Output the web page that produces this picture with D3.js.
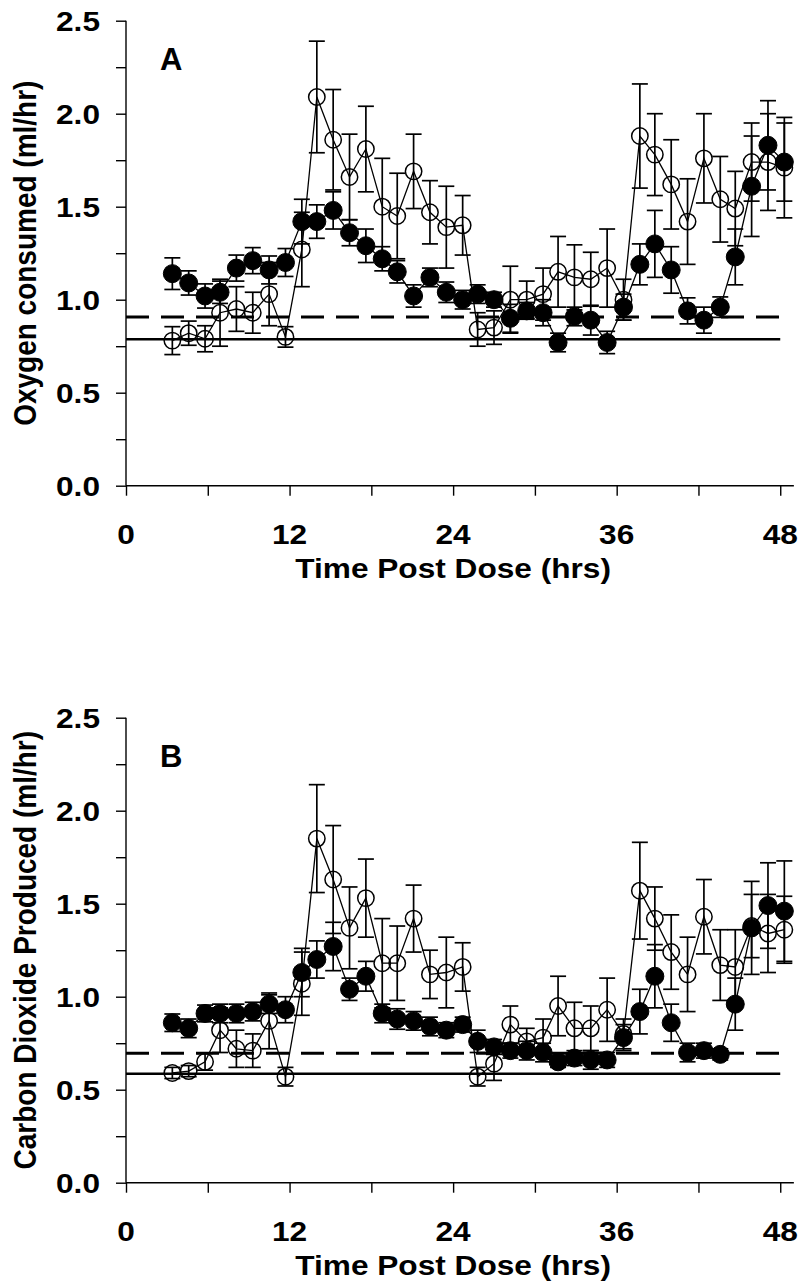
<!DOCTYPE html>
<html>
<head>
<meta charset="utf-8">
<script src="https://cdn.jsdelivr.net/npm/d3@7"></script>
<style>
  body { margin: 0; background: #fff; }
  text { font-family: "Liberation Sans", Arial, sans-serif; font-weight: bold; fill: #000; }
  .axis path, .axis line { stroke: #000; stroke-width: 1.4; }
</style>
</head>
<body>
<svg id="plot"></svg>
<script>
// Sampling times (hrs post dose)
const hours = [3.4, 4.6, 5.8, 6.9, 8.1, 9.3, 10.5, 11.7, 12.9, 14.0, 15.2, 16.4, 17.6,
  18.8, 19.9, 21.1, 22.3, 23.5, 24.7, 25.8, 27.0, 28.2, 29.4, 30.6, 31.7, 32.9, 34.1,
  35.3, 36.5, 37.7, 38.8, 40.0, 41.2, 42.4, 43.6, 44.7, 45.9, 47.1, 48.3];

// Panel A - oxygen consumed (ml/hr)
const o2Filled = [1.14, 1.09, 1.02, 1.04, 1.17, 1.21, 1.16, 1.20, 1.42, 1.42, 1.48, 1.36, 1.29,
  1.22, 1.15, 1.02, 1.12, 1.04, 1.00, 1.03, 1.00, 0.90, 0.94, 0.93, 0.77, 0.91, 0.89,
  0.77, 0.96, 1.19, 1.30, 1.16, 0.94, 0.89, 0.96, 1.23, 1.61, 1.83, 1.74];
const o2FilledErr = [0.085, 0.065, 0.065, 0.06, 0.07, 0.07, 0.075, 0.075, 0.12, 0.09, 0.10, 0.07, 0.09,
  0.065, 0.06, 0.06, 0.05, 0.055, 0.05, 0.05, 0.04, 0.075, 0.045, 0.07, 0.05, 0.05, 0.08,
  0.06, 0.07, 0.11, 0.18, 0.125, 0.07, 0.07, 0.055, 0.15, 0.27, 0.24, 0.21];
const o2Open = [0.78, 0.82, 0.79, 0.93, 0.95, 0.93, 1.03, 0.80, 1.27, 2.09, 1.86, 1.66, 1.81,
  1.50, 1.45, 1.69, 1.47, 1.39, 1.40, 0.84, 0.85, 1.00, 1.00, 1.03, 1.15, 1.12, 1.11,
  1.17, 1.00, 1.88, 1.78, 1.62, 1.42, 1.76, 1.54, 1.49, 1.74, 1.74, 1.71];
const o2OpenErr = [0.075, 0.065, 0.07, 0.18, 0.12, 0.11, 0.17, 0.055, 0.2, 0.3, 0.27, 0.23, 0.23,
  0.26, 0.23, 0.2, 0.17, 0.22, 0.16, 0.09, 0.09, 0.18, 0.1, 0.14, 0.19, 0.175, 0.145,
  0.21, 0.11, 0.28, 0.22, 0.24, 0.23, 0.24, 0.23, 0.2, 0.21, 0.26, 0.27];
const o2Dashed = 0.907;
const o2Solid = 0.787;

// Panel B - carbon dioxide produced (ml/hr)
const co2Filled = [0.86, 0.83, 0.91, 0.91, 0.91, 0.92, 0.96, 0.93, 1.13, 1.20, 1.27, 1.04, 1.11,
  0.91, 0.88, 0.87, 0.84, 0.82, 0.85, 0.76, 0.73, 0.71, 0.71, 0.70, 0.65, 0.67, 0.66,
  0.66, 0.78, 0.92, 1.11, 0.86, 0.70, 0.71, 0.69, 0.96, 1.37, 1.49, 1.46];
const co2FilledErr = [0.047, 0.05, 0.045, 0.05, 0.05, 0.05, 0.05, 0.07, 0.13, 0.1, 0.13, 0.06, 0.08,
  0.05, 0.055, 0.05, 0.05, 0.04, 0.04, 0.06, 0.04, 0.04, 0.05, 0.05, 0.03, 0.04, 0.05,
  0.04, 0.07, 0.12, 0.17, 0.1, 0.05, 0.04, 0.03, 0.14, 0.25, 0.23, 0.27];
const co2Open = [0.59, 0.60, 0.65, 0.82, 0.72, 0.71, 0.87, 0.57, 1.07, 1.85, 1.63, 1.37, 1.53,
  1.18, 1.18, 1.42, 1.12, 1.13, 1.16, 0.57, 0.64, 0.85, 0.76, 0.78, 0.95, 0.83, 0.83,
  0.93, 0.80, 1.57, 1.42, 1.24, 1.12, 1.43, 1.17, 1.16, 1.38, 1.34, 1.36];
const co2OpenErr = [0.03, 0.03, 0.045, 0.12, 0.1, 0.09, 0.15, 0.05, 0.17, 0.29, 0.29, 0.22, 0.21,
  0.24, 0.2, 0.18, 0.13, 0.19, 0.13, 0.05, 0.09, 0.1, 0.07, 0.1, 0.16, 0.14, 0.12,
  0.17, 0.08, 0.26, 0.17, 0.2, 0.2, 0.2, 0.19, 0.2, 0.17, 0.21, 0.18];
const co2Dashed = 0.696;
const co2Solid = 0.586;

const xTicks = [0, 6, 12, 18, 24, 30, 36, 42, 48];
const xLabels = [0, 12, 24, 36, 48];
const yTicks = [0, 0.25, 0.5, 0.75, 1, 1.25, 1.5, 1.75, 2, 2.25, 2.5];
const yLabels = [0, 0.5, 1, 1.5, 2, 2.5];

const totalW = 800;
const totalH = 1286;
const left = 126;
const plotH = 465;
const stretch = 1.13; // text in the original is a bit wide

const svg = d3.select("#plot").attr("width", totalW).attr("height", totalH);

const xScale = d3.scaleLinear().domain([0, 49]).range([0, 49 * 13.63]);
const yScale = d3.scaleLinear().domain([0, 2.5]).range([plotH, 0]);

function drawPanel(top, letter, yTitle, filled, filledErr, open, openErr, dashed, solid) {
  const g = svg.append("g").attr("transform", `translate(${left},${top})`);

  // axes
  g.append("g")
    .attr("class", "axis")
    .attr("transform", `translate(0,${plotH})`)
    .call(d3.axisBottom(xScale).tickValues(xTicks).tickSize(10).tickFormat(""))
    .call((a) => a.select(".domain").attr("d", `M0,0H${xScale(49)}`));

  g.append("g")
    .attr("class", "axis")
    .call(d3.axisLeft(yScale).tickValues(yTicks).tickSize(10).tickFormat(""))
    .call((a) => a.select(".domain").attr("d", `M0,${yScale(2.5)}V${yScale(0)}`));

  g.selectAll(".xlab")
    .data(xLabels)
    .enter()
    .append("text")
    .attr("transform", (d) => `translate(${xScale(d)},${plotH + 58}) scale(${stretch},1)`)
    .attr("text-anchor", "middle")
    .style("font-size", "28px")
    .text((d) => d);

  g.selectAll(".ylab")
    .data(yLabels)
    .enter()
    .append("text")
    .attr("transform", (d) => `translate(-26,${yScale(d) + 10}) scale(${stretch},1)`)
    .attr("text-anchor", "end")
    .style("font-size", "28px")
    .text((d) => d.toFixed(1));

  g.append("text")
    .attr("transform", `translate(${xScale(24)},${plotH + 92}) scale(${stretch},1)`)
    .attr("text-anchor", "middle")
    .style("font-size", "28px")
    .text("Time Post Dose (hrs)");

  g.append("text")
    .attr("transform", `translate(-90,${plotH / 2}) scale(${stretch},1) rotate(-90)`)
    .attr("text-anchor", "middle")
    .style("font-size", "28px")
    .text(yTitle);

  g.append("text")
    .attr("x", 34)
    .attr("y", 49)
    .style("font-size", "31px")
    .text(letter);

  // reference lines
  g.append("line")
    .attr("x1", 0).attr("x2", xScale(48))
    .attr("y1", yScale(dashed)).attr("y2", yScale(dashed))
    .attr("stroke", "#000").attr("stroke-width", 3.2)
    .attr("stroke-dasharray", "23,12");
  g.append("line")
    .attr("x1", 0).attr("x2", xScale(48))
    .attr("y1", yScale(solid)).attr("y2", yScale(solid))
    .attr("stroke", "#000").attr("stroke-width", 2.6);

  const line = d3.line().x((d) => xScale(d.t)).y((d) => yScale(d.v));

  const series = [
    { vals: open, errs: openErr, hollow: true },
    { vals: filled, errs: filledErr, hollow: false },
  ];

  series.forEach((s) => {
    const pts = hours.map((t, i) => ({ t: t, v: s.vals[i], e: s.errs[i] }));

    g.append("path")
      .datum(pts)
      .attr("d", line)
      .attr("fill", "none")
      .attr("stroke", "#000")
      .attr("stroke-width", 1.3);

    const eb = g.append("g").attr("stroke", "#000").attr("stroke-width", 1.7);
    eb.selectAll(".bar")
      .data(pts)
      .enter()
      .append("line")
      .attr("x1", (d) => xScale(d.t)).attr("x2", (d) => xScale(d.t))
      .attr("y1", (d) => yScale(d.v + d.e)).attr("y2", (d) => yScale(d.v - d.e));
    eb.selectAll(".capTop")
      .data(pts)
      .enter()
      .append("line")
      .attr("x1", (d) => xScale(d.t) - 8).attr("x2", (d) => xScale(d.t) + 8)
      .attr("y1", (d) => yScale(d.v + d.e)).attr("y2", (d) => yScale(d.v + d.e));
    eb.selectAll(".capBot")
      .data(pts)
      .enter()
      .append("line")
      .attr("x1", (d) => xScale(d.t) - 8).attr("x2", (d) => xScale(d.t) + 8)
      .attr("y1", (d) => yScale(d.v - d.e)).attr("y2", (d) => yScale(d.v - d.e));

    g.selectAll(null)
      .data(pts)
      .enter()
      .append("circle")
      .attr("cx", (d) => xScale(d.t))
      .attr("cy", (d) => yScale(d.v))
      .attr("r", s.hollow ? 8.2 : 9)
      .attr("fill", s.hollow ? "none" : "#000")
      .attr("stroke", "#000")
      .attr("stroke-width", s.hollow ? 1.5 : 1);
  });
}

drawPanel(20.7, "A", "Oxygen consumed (ml/hr)",
  o2Filled, o2FilledErr, o2Open, o2OpenErr, o2Dashed, o2Solid);
drawPanel(717.7, "B", "Carbon Dioxide Produced (ml/hr)",
  co2Filled, co2FilledErr, co2Open, co2OpenErr, co2Dashed, co2Solid);
</script>
</body>
</html>
